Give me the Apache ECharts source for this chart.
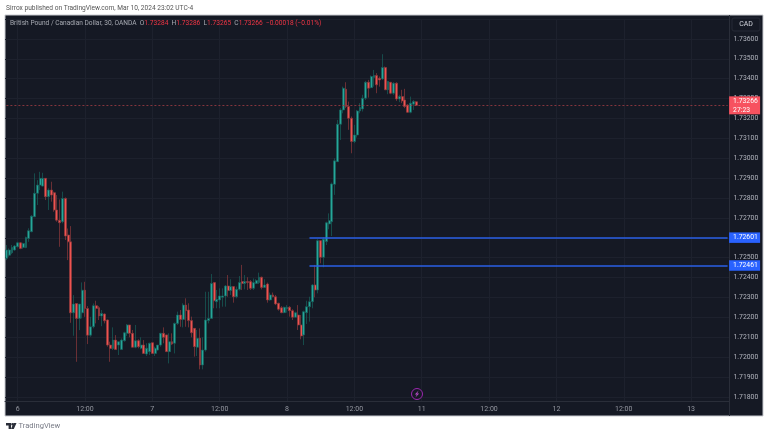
<!DOCTYPE html>
<html>
<head>
<meta charset="utf-8">
<style>html,body{margin:0;padding:0;background:#fff}#c{width:768px;height:436px}</style>
<script src="https://cdn.jsdelivr.net/npm/echarts@6/dist/echarts.min.js"></script>
</head>
<body>
<div id="c"></div>
<script>
const opens=[1.72497,1.72513,1.72525,1.72539,1.72555,1.72575,1.72552,1.72552,1.72597,1.72631,1.72706,1.72824,1.72865,1.72860,1.72899,1.72807,1.72840,1.72827,1.72740,1.72689,1.72681,1.72798,1.72614,1.72580,1.72223,1.72270,1.72195,1.72223,1.72337,1.72245,1.72111,1.72153,1.72259,1.72249,1.72207,1.72217,1.72187,1.72061,1.72044,1.72086,1.72061,1.72039,1.72083,1.72120,
1.72162,1.72120,1.72050,1.72083,1.72045,1.72061,1.72016,1.72028,1.72073,1.72019,1.72036,1.72061,1.72120,1.72112,1.72028,1.72078,1.72070,1.72170,1.72212,1.72190,1.72262,1.72237,1.72184,1.72145,1.72050,1.72095,1.71961,1.72036,1.72184,1.72195,1.72375,1.72279,1.72288,1.72301,1.72308,1.72358,1.72335,1.72355,1.72304,1.72341,1.72380,1.72371,1.72380,1.72380,1.72346,
1.72371,1.72375,1.72402,1.72351,1.72368,1.72288,1.72313,1.72304,1.72271,1.72249,1.72224,1.72244,1.72251,1.72234,1.72201,1.72212,1.72162,1.72112,1.72224,1.72254,1.72279,1.72363,1.72338,1.72586,1.72502,1.72581,1.72670,1.72681,
1.72869,1.72983,1.73171,1.73243,1.73347,1.73260,1.73201,1.73084,1.73117,1.73238,1.73248,1.73302,1.73382,1.73355,1.73406,1.73416,1.73402,1.73399,1.73456,1.73344,1.73382,1.73327,1.73377,1.73298,1.73310,1.73293,1.73268,1.73231,1.73272,1.73284];
const closes=[1.72539,1.72539,1.72552,1.72559,1.72575,1.72547,1.72572,1.72602,1.72636,1.72709,1.72824,1.72865,1.72899,1.72899,1.72807,1.72840,1.72815,1.72740,1.72689,1.72676,1.72798,1.72609,1.72580,1.72223,1.72267,1.72195,1.72267,1.72337,1.72245,1.72111,1.72153,1.72259,1.72245,1.72207,1.72220,1.72183,1.72061,1.72044,1.72086,1.72039,1.72078,1.72086,1.72123,1.72162,
1.72120,1.72050,1.72083,1.72053,1.72061,1.72019,1.72045,1.72070,1.72019,1.72045,1.72061,1.72120,1.72100,1.72028,1.72078,1.72066,1.72170,1.72212,1.72190,1.72262,1.72234,1.72184,1.72123,1.72053,1.72095,1.71961,1.72036,1.72187,1.72195,1.72371,1.72284,1.72291,1.72308,1.72308,1.72358,1.72335,1.72355,1.72304,1.72341,1.72375,1.72371,1.72380,1.72375,1.72346,1.72375,
1.72385,1.72402,1.72351,1.72363,1.72288,1.72313,1.72304,1.72268,1.72241,1.72224,1.72251,1.72251,1.72234,1.72201,1.72224,1.72162,1.72107,1.72229,1.72254,1.72279,1.72363,1.72338,1.72586,1.72502,1.72593,1.72676,1.72687,1.72871,
1.72987,1.73171,1.73243,1.73352,1.73260,1.73201,1.73084,1.73117,1.73238,1.73255,1.73302,1.73382,1.73352,1.73411,1.73416,1.73369,1.73394,1.73456,1.73344,1.73386,1.73327,1.73377,1.73298,1.73310,1.73288,1.73260,1.73231,1.73277,1.73285,1.73266];
const lows=[1.72488,1.72505,1.72518,1.72535,1.72552,1.72543,1.72545,1.72548,1.72580,1.72628,1.72706,1.72765,1.72840,1.72857,1.72790,1.72740,1.72782,1.72731,1.72681,1.72555,1.72673,1.72589,1.72488,1.72173,1.72108,1.71977,1.72136,1.72195,1.72203,1.72066,1.72103,1.72145,1.72170,1.72187,1.72156,1.72170,1.72053,1.71977,1.72036,1.72036,1.72011,1.72036,1.72078,1.72107,
1.72100,1.72050,1.72045,1.72045,1.72040,1.72016,1.72006,1.72011,1.72016,1.72006,1.72033,1.72053,1.72070,1.72028,1.71969,1.72061,1.72019,1.72162,1.72153,1.72150,1.72153,1.72150,1.72100,1.72003,1.72006,1.71939,1.71939,1.72028,1.72170,1.72195,1.72246,1.72246,1.72246,1.72254,1.72254,1.72304,1.72313,1.72274,1.72296,1.72335,1.72338,1.72341,1.72338,1.72338,1.72338,
1.72368,1.72368,1.72341,1.72351,1.72274,1.72284,1.72301,1.72262,1.72234,1.72221,1.72221,1.72224,1.72204,1.72187,1.72201,1.72137,1.72090,1.72061,1.72167,1.72179,1.72246,1.72301,1.72321,1.72472,1.72452,1.72564,1.72643,1.72609,
1.72816,1.72983,1.73092,1.73226,1.73252,1.73143,1.73025,1.73076,1.73104,1.73226,1.73235,1.73293,1.73305,1.73352,1.73360,1.73327,1.73360,1.73394,1.73344,1.73322,1.73322,1.73319,1.73288,1.73282,1.73277,1.73252,1.73228,1.73226,1.73243,1.73265];
const highs=[1.72564,1.72547,1.72564,1.72564,1.72580,1.72578,1.72575,1.72606,1.72648,1.72714,1.72924,1.72890,1.72932,1.72927,1.72899,1.72849,1.72882,1.72832,1.72815,1.72793,1.72832,1.72803,1.72647,1.72659,1.72312,1.72270,1.72267,1.72376,1.72379,1.72257,1.72203,1.72270,1.72284,1.72257,1.72237,1.72220,1.72190,1.72078,1.72150,1.72111,1.72078,1.72094,1.72128,1.72167,
1.72162,1.72137,1.72162,1.72090,1.72100,1.72086,1.72070,1.72073,1.72073,1.72053,1.72061,1.72123,1.72150,1.72112,1.72120,1.72120,1.72174,1.72229,1.72237,1.72271,1.72296,1.72271,1.72204,1.72145,1.72137,1.72145,1.72100,1.72329,1.72329,1.72418,1.72375,1.72338,1.72346,1.72346,1.72363,1.72413,1.72392,1.72355,1.72355,1.72408,1.72464,1.72413,1.72402,1.72388,1.72396,
1.72392,1.72425,1.72405,1.72392,1.72375,1.72325,1.72325,1.72313,1.72274,1.72257,1.72254,1.72262,1.72257,1.72241,1.72229,1.72262,1.72212,1.72234,1.72284,1.72304,1.72368,1.72464,1.72593,1.72589,1.72603,1.72681,1.72723,1.72878,
1.73000,1.73193,1.73252,1.73360,1.73382,1.73285,1.73210,1.73168,1.73243,1.73277,1.73319,1.73389,1.73394,1.73416,1.73444,1.73428,1.73411,1.73523,1.73461,1.73389,1.73382,1.73382,1.73382,1.73319,1.73344,1.73349,1.73272,1.73310,1.73293,1.73286];
const barSlots=258;
const tickBars=[4,28,52,76,100,124,148,172,196,220,244];
const tickLabels=['6','12:00','7','12:00','8','12:00','11','12:00','12','12:00','13'];
const levelStartBar=108;
const levels=[1.72601,1.72461];
const lastPrice=1.73266;
const countdown='27:23';

const categories=[];
for(let i=0;i<barSlots;i++){const k=tickBars.indexOf(i);categories.push(k>=0?tickLabels[k]:'');}
const candles=opens.map((o,i)=>[o,closes[i],lows[i],highs[i]]);
const isTick=i=>tickBars.indexOf(i)>=0;

const FONT='Roboto';
const RED='#f23645';
const GRID='#1d212d';
const levelLine=v=>[{coord:[levelStartBar,v],symbol:'none',
  lineStyle:{color:'#2a5fe6',width:1.6,type:'solid'},
  label:{show:true,position:'end',distance:1.5,formatter:v.toFixed(5),color:'#fff',fontFamily:FONT,fontSize:6.8,
    backgroundColor:'#2962ff',padding:[0,0,0,4],width:27,height:10.5,lineHeight:10.5,align:'left',verticalAlign:'middle'}},
  {coord:[barSlots-1,v],symbol:'none'}];

const chart=echarts.init(document.getElementById('c'),null,{renderer:'canvas'});
chart.setOption({
  animation:false,
  backgroundColor:'#ffffff',
  grid:{left:5,right:39,top:19,bottom:39,containLabel:false},
  xAxis:{type:'category',data:categories,boundaryGap:true,offset:4,
    axisLine:{show:true,lineStyle:{color:'#2a2e39',width:1}},
    axisTick:{show:true,inside:true,length:4,alignWithLabel:true,interval:i=>isTick(i),lineStyle:{color:GRID,width:1}},
    splitLine:{show:true,alignWithLabel:true,interval:i=>isTick(i),lineStyle:{color:GRID,width:1}},
    axisLabel:{show:true,interval:i=>isTick(i),color:'#9598a1',fontFamily:FONT,fontSize:7,margin:4.5,hideOverlap:false}},
  yAxis:{type:'value',position:'right',min:1.718,max:1.737,interval:0.001,
    axisLine:{show:false},
    axisTick:{show:false},
    splitLine:{show:true,lineStyle:{color:GRID,width:1}},
    axisLabel:{show:true,showMinLabel:true,showMaxLabel:false,inside:false,margin:4.5,color:'#b2b5be',fontFamily:FONT,fontSize:6.8,
      formatter:v=>v.toFixed(5)}},
  series:[{type:'candlestick',data:candles,barWidth:2.4,z:3,silent:true,
    itemStyle:{color:'#26a69a',color0:'#ef5350',borderColor:'#17615c',borderColor0:'#8f3a3c',borderWidth:0.7},
    markLine:{silent:true,animation:false,symbol:'none',z:5,data:[
      levelLine(levels[0]),levelLine(levels[1]),
      [{coord:[0,lastPrice],symbol:'none',lineStyle:{color:'#a23c44',width:0.8,type:[2,2]},
        label:{show:true,position:'end',distance:1.5,formatter:lastPrice.toFixed(5)+'\n'+countdown,color:'#fff',fontFamily:FONT,fontSize:6.8,
          backgroundColor:'#f7525f',padding:[0,0,0,4],width:27,height:18,lineHeight:9,align:'left',verticalAlign:'middle'}},
       {coord:[barSlots-1,lastPrice],symbol:'none'}]
    ]}}],
  graphic:[
    {type:'rect',z:-10,shape:{x:5,y:15,width:758,height:401},style:{fill:'#151924',stroke:'#c9cbd0',lineWidth:1}},
    {type:'line',z:1,shape:{x1:729.5,y1:15,x2:729.5,y2:416},style:{stroke:'#2a2e39',lineWidth:1}},
    {type:'rect',z:50,shape:{x:732,y:18,width:28,height:13,r:2},style:{fill:'#151924',stroke:'#262a36',lineWidth:1}},
    {type:'text',z:51,style:{x:746,y:24.5,text:'CAD',fill:'#d1d4dc',font:'7px '+FONT,align:'center',verticalAlign:'middle'}},
    {type:'text',z:20,style:{x:6,y:8,text:'Sirrox published on TradingView.com, Mar 10, 2024 23:02 UTC-4',fill:'#555',font:'6.6px '+FONT,verticalAlign:'middle'}},
    {type:'text',z:20,style:{x:10,y:23.5,verticalAlign:'middle',font:'6.6px '+FONT,
      text:'{g|British Pound / Canadian Dollar, 30, OANDA  O}{r|1.73284}{g|  H}{r|1.73286}{g|  L}{r|1.73265}{g|  C}{r|1.73266}{r|  −0.00018 (−0.01%)}',
      rich:{g:{fill:'#a8abb3',font:'6.6px '+FONT},r:{fill:RED,font:'6.6px '+FONT}}}},
    {type:'circle',z:20,shape:{cx:417,cy:394,r:5.5},style:{fill:'#151924',stroke:'#9c27b0',lineWidth:1}},
    {type:'polygon',z:21,shape:{points:[[418.6,390.6],[414.8,394.6],[416.8,394.6],[415.4,397.4],[419.2,393.4],[417.2,393.4]]},style:{fill:'#b04ac0'}},
    {type:'polygon',z:20,shape:{points:[[6,423],[11,423],[11,429],[8.6,429],[8.6,425.4],[6,425.4]]},style:{fill:'#2a2e39'}},
    {type:'circle',z:20,shape:{cx:12.4,cy:424.2,r:1.2},style:{fill:'#2a2e39'}},
    {type:'polygon',z:20,shape:{points:[[13.5,423],[16.5,423],[13.8,429],[11,429]]},style:{fill:'#2a2e39'}},
    {type:'text',z:20,style:{x:18.5,y:426.5,text:'TradingView',fill:'#787b86',font:'7.6px '+FONT,verticalAlign:'middle'}}
  ]
});
</script>
</body>
</html>
